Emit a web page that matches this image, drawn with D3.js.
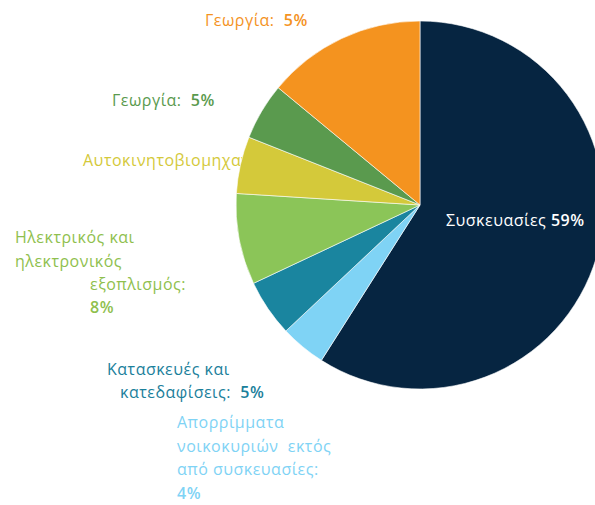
<!DOCTYPE html>
<html>
<head>
<meta charset="utf-8">
<script src="https://cdn.jsdelivr.net/npm/d3@7"></script>
<style>
    body { margin: 0; background: #fff; }
    svg text { font-family: "Open Sans", "DejaVu Sans", sans-serif; font-size: 16px; letter-spacing: 0.5px; }
</style>
</head>
<body>
<div id="pie-div"></div>
<script>
// chart size
const width = 595;
const height = 505;
const cx = 420;
const cy = 205;
const radius = 184;

// data, clockwise from 12 o'clock
const categories = ["Συσκευασίες", "Απορρίμματα νοικοκυριών εκτός από συσκευασίες",
    "Κατασκευές και κατεδαφίσεις", "Ηλεκτρικός και ηλεκτρονικός εξοπλισμός",
    "Αυτοκινητοβιομηχανία", "Γεωργία", "Γεωργία"];
const values = [59, 4, 5, 8, 5, 5, 14];
const colors = ["#062541", "#7fd3f5", "#1a859f", "#8bc558", "#d4c93a", "#5a9a4e", "#f4931f"];

// label text, one array of lines per slice; last part of a line in bold
const labelLines = [
    [["Συσκευασίες ", "59%"]],
    [["Απορρίμματα", ""], ["νοικοκυριών  εκτός", ""], ["από συσκευασίες:", ""], ["", "4%"]],
    [["Κατασκευές και", ""], ["κατεδαφίσεις:  ", "5%"]],
    [["Ηλεκτρικός και", ""], ["ηλεκτρονικός", ""], ["εξοπλισμός:", ""], ["", "8%"]],
    [["Αυτοκινητοβιομηχανία:  ", "5%"]],
    [["Γεωργία:  ", "5%"]],
    [["Γεωργία:  ", "5%"]]
];
const labelColors = ["#ffffff", "#7fd3f5", "#1b809b", "#8fbf4e", "#d4c93a", "#5a9a4e", "#f4931f"];
// where each line of a label starts (x, baseline y)
const labelPos = [
    [[446, 226]],
    [[177, 428], [177, 452], [177, 475], [177, 499]],
    [[107, 375], [120, 398]],
    [[15, 243], [15, 267], [90, 290], [90, 313]],
    [[83, 166]],
    [[112, 106]],
    [[205, 26]]
];

var svg = d3.select("#pie-div")
    .append("svg")
    .attr("width", width)
    .attr("height", height);

var pie = d3.pie().sort(null).value((d) => d);
var arc = d3.arc().innerRadius(0).outerRadius(radius);
var arcs = pie(values);

// labels outside the pie go first, the pie covers them (like the original)
function drawLabel(g, i) {
    labelLines[i].forEach((line, j) => {
        var t = g.append("text")
            .attr("x", labelPos[i][j][0])
            .attr("y", labelPos[i][j][1])
            .attr("fill", labelColors[i])
            .attr("xml:space", "preserve");
        t.append("tspan").text(line[0]);
        if (line[1] !== "") {
            t.append("tspan").attr("font-weight", "600").text(line[1]);
        }
    });
}

var outer = svg.append("g").attr("id", "outer-labels");
for (let i = 1; i < categories.length; i++) {
    drawLabel(outer, i);
}

var pieG = svg.append("g")
    .attr("transform", "translate(" + cx + "," + cy + ")");

pieG.selectAll("path")
    .data(arcs)
    .enter()
    .append("path")
    .attr("d", arc)
    .attr("fill", (d, i) => colors[i])
    .attr("stroke", "#ffffff")
    .attr("stroke-width", 0.6);

// inside label for the big slice
var inner = svg.append("g").style("letter-spacing", "1.1px");
drawLabel(inner, 0);
</script>
</body>
</html>
